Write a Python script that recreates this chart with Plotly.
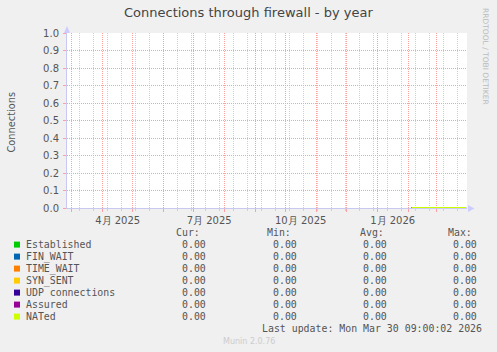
import plotly.graph_objects as go

# ---------------- data ----------------
series_names = ["Established", "FIN_WAIT", "TIME_WAIT", "SYN_SENT",
                "UDP connections", "Assured", "NATed"]
series_colors = ["#00cc00", "#0066b3", "#ff8000", "#ffcc00",
                 "#330099", "#990099", "#ccff00"]
data_dates = ["2026-02-04", "2026-03-30 09:00"]
series_values = {
    "Established": [0, 0],
    "FIN_WAIT": [0, 0],
    "TIME_WAIT": [0, 0],
    "SYN_SENT": [0, 0],
    "UDP connections": [0, 0],
    "Assured": [0, 0],
    "NATed": [0, 0],
}
cur_vals = ["0.00"] * 7
min_vals = ["0.00"] * 7
avg_vals = ["0.00"] * 7
max_vals = ["0.00"] * 7

month_starts = ["2025-03-01", "2025-04-01", "2025-05-01", "2025-06-01",
                "2025-07-01", "2025-08-01", "2025-09-01", "2025-10-01",
                "2025-11-01", "2025-12-01", "2026-01-01", "2026-02-01",
                "2026-03-01"]
label_dates = ["2025-04-16", "2025-07-16 12:00", "2025-10-16", "2026-01-16"]
label_texts = ["4月 2025", "7月 2025", "10月 2025", "1月 2026"]
y_ticks = [0.0, 0.1, 0.2, 0.3, 0.4, 0.5, 0.6, 0.7, 0.8, 0.9, 1.0]

x_range = ["2025-02-24 08:00", "2026-03-31 08:00"]
title = "Connections through firewall - by year"
last_update = "Last update: Mon Mar 30 09:00:02 2026"

# ---------------- layout geometry ----------------
W, H = 497, 352
L, T, PW, PH = 67, 33, 400, 175


def X(px):
    return (px - L) / PW


def Y(py):
    return (T + PH - py) / PH


RED = "#ffa0a0"
GREY = "#d0d0d0"
AXIS = "#c8c8f0"
TXT = "#555555"
MONO = "DejaVu Sans Mono"

fig = go.Figure()
for name, col in zip(series_names, series_colors):
    fig.add_trace(go.Scatter(x=data_dates, y=series_values[name], mode="lines",
                             line=dict(color=col, width=2), name=name,
                             showlegend=False, hoverinfo="skip"))

annotations = []
shapes = []

# title
annotations.append(dict(text=title, xref="paper", yref="paper",
                        x=X(248), y=Y(13), xanchor="center", yanchor="middle",
                        showarrow=False, borderpad=0, borderwidth=0,
                        font=dict(family="DejaVu Sans", size=13, color="#444444")))
# y axis title
annotations.append(dict(text="Connections", xref="paper", yref="paper",
                        x=X(10.5), y=Y(122), xanchor="center", yanchor="middle",
                        textangle=-90, showarrow=False, borderpad=0, borderwidth=0,
                        font=dict(family="DejaVu Sans", size=9.8, color=TXT)))
# rrdtool credit
annotations.append(dict(text="RRDTOOL / TOBI OETIKER", xref="paper", yref="paper",
                        x=X(486), y=Y(56), xanchor="center", yanchor="middle",
                        textangle=90, showarrow=False, borderpad=0, borderwidth=0,
                        font=dict(family="DejaVu Sans", size=7.5, color="#bbbbbb")))
# munin version
annotations.append(dict(text="Munin 2.0.76", xref="paper", yref="paper",
                        x=X(249), y=Y(341), xanchor="center", yanchor="middle",
                        showarrow=False, borderpad=0, borderwidth=0,
                        font=dict(family="DejaVu Sans", size=8, color="#cccccc")))


def mono(text, x, y, anchor="left"):
    annotations.append(dict(text=text.replace(" ", "&nbsp;"), xref="paper", yref="paper",
                            x=X(x), y=Y(y), xanchor=anchor, yanchor="middle",
                            showarrow=False, borderpad=0, borderwidth=0,
                            font=dict(family=MONO, size=9.9, color=TXT)))


mono("Cur:", 176, 232)
mono("Min:", 267, 232)
mono("Avg:", 360, 232)
mono("Max:", 448, 232)
for i, name in enumerate(series_names):
    yy = 244.6 + 12 * i
    shapes.append(dict(type="rect", xref="paper", yref="paper",
                       x0=X(14), x1=X(20), y0=Y(yy - 3), y1=Y(yy + 3),
                       fillcolor=series_colors[i], line=dict(width=0)))
    mono(name, 26, yy)
    mono(cur_vals[i], 206, yy, "right")
    mono(min_vals[i], 297, yy, "right")
    mono(avg_vals[i], 387, yy, "right")
    mono(max_vals[i], 477, yy, "right")
mono(last_update, 482, 328, "right")

# axis arrows
shapes.append(dict(type="path", xref="paper", yref="paper",
                   path=f"M {X(64)},{Y(33)} L {X(67)},{Y(26)} L {X(70)},{Y(33)} Z",
                   fillcolor="#ccccff", line=dict(width=0)))
shapes.append(dict(type="path", xref="paper", yref="paper",
                   path=f"M {X(468)},{Y(205)} L {X(474.5)},{Y(208.5)} L {X(468)},{Y(212)} Z",
                   fillcolor="#ccccff", line=dict(width=0)))

fig.update_layout(
    width=W, height=H,
    margin=dict(l=L, r=W - L - PW, t=T, b=H - T - PH, pad=0),
    paper_bgcolor="#f0f0f0", plot_bgcolor="#ffffff",
    showlegend=False,
    annotations=annotations, shapes=shapes,
    xaxis=dict(type="date", range=x_range, tickmode="array", tickvals=month_starts,
               showticklabels=False, ticks="outside", ticklen=3, tickcolor=RED,
               showgrid=True, gridcolor=RED, griddash="1px,1px", gridwidth=1,
               minor=dict(tick0="2025-03-08 16:00", dtick=14 * 86400000,
                          showgrid=True, gridcolor=GREY, griddash="1px,1px",
                          gridwidth=1,
                          ticks="outside", ticklen=2, tickcolor=GREY),
               showline=True, linecolor=AXIS, linewidth=1, zeroline=False,
               layer="below traces", fixedrange=True),
    xaxis2=dict(type="date", range=x_range, overlaying="x", anchor="y", side="bottom",
                tickmode="array", tickvals=label_dates, ticktext=label_texts,
                ticks="", showgrid=False, showline=False, zeroline=False,
                ticklabelstandoff=5,
                tickfont=dict(family="DejaVu Sans", size=10, color=TXT)),
    yaxis=dict(range=[0, 1.0], tickmode="array", tickvals=y_ticks, tickformat=".1f",
               ticks="outside", ticklen=3, tickcolor=RED,
               showgrid=True, gridcolor=RED, griddash="1px,1px", gridwidth=1,
               showline=True, linecolor=AXIS, linewidth=1, zeroline=False,
               ticklabelstandoff=2,
               tickfont=dict(family="DejaVu Sans", size=10, color=TXT),
               layer="below traces", fixedrange=True),
)
fig.add_trace(go.Scatter(x=label_dates, y=[None] * len(label_dates), xaxis="x2",
                         showlegend=False, hoverinfo="skip"))

fig.write_html("out.html", config={"displayModeBar": False})
